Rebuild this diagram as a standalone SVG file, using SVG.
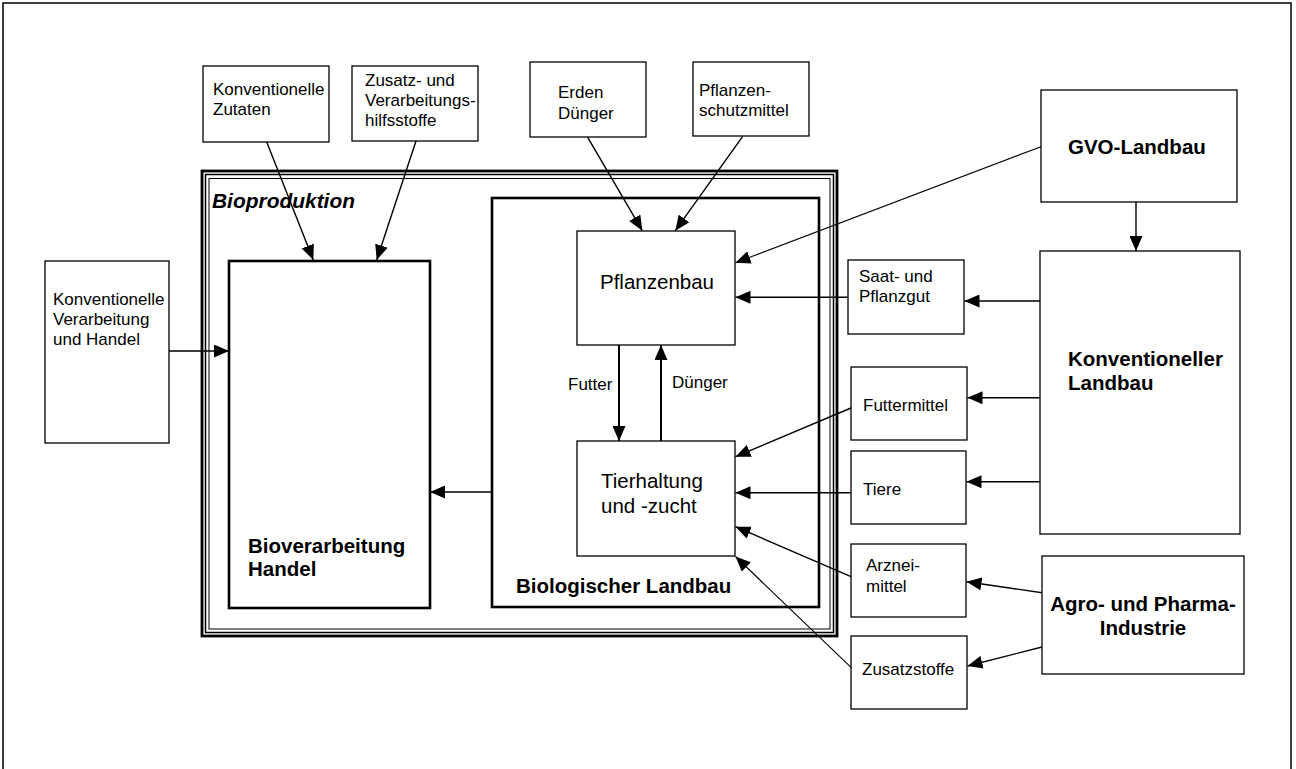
<svg xmlns="http://www.w3.org/2000/svg" width="1296" height="769" viewBox="0 0 1296 769">
<style>
.bx{fill:#fff;stroke:#000;stroke-width:1.3}
.tk{fill:none;stroke:#000;stroke-width:2.6}
.t{font-family:"Liberation Sans",Arial,sans-serif;font-size:17px;fill:#000}
.m{font-family:"Liberation Sans",Arial,sans-serif;font-size:20.5px;fill:#000}
.b{font-family:"Liberation Sans",Arial,sans-serif;font-size:20.5px;font-weight:bold;fill:#000}
.c{fill:none;stroke:#000;stroke-width:1.4;marker-end:url(#ah)}
.c2{fill:none;stroke:#000;stroke-width:2;marker-end:url(#ah)}
</style>
<defs>
<marker id="ah" markerUnits="userSpaceOnUse" markerWidth="15" markerHeight="13" refX="15" refY="6.5" orient="auto" viewBox="0 0 15 13">
<path d="M0,0 L15,6.5 L0,13 z" fill="#000"/>
</marker>
</defs>
<rect width="1296" height="769" fill="#fff"/>
<rect x="3" y="3" width="1288" height="780" fill="none" stroke="#000" stroke-width="1.5"/>

<g id="bioproduktion">
<rect x="202" y="171" width="635" height="465" fill="none" stroke="#000" stroke-width="2.8"/>
<rect x="205.5" y="174.5" width="628" height="458" fill="none" stroke="#000" stroke-width="1.5"/>
<rect x="209" y="178.5" width="621" height="450.5" fill="none" stroke="#000" stroke-width="1"/>
<text x="212" y="208" class="b" font-style="italic" textLength="143" lengthAdjust="spacingAndGlyphs">Bioproduktion</text>
</g>

<g id="bioverarbeitung">
<rect x="229" y="261" width="201" height="347" class="tk"/>
<text class="b" x="248" y="553">Bioverarbeitung</text>
<text class="b" x="248" y="576">Handel</text>
</g>

<g id="biologischer-landbau">
<rect x="492" y="198" width="327" height="409" class="tk"/>
<text class="b" x="516" y="593">Biologischer Landbau</text>
</g>

<g id="pflanzenbau">
<rect x="577" y="231" width="158" height="114" class="bx"/>
<text class="m" x="600" y="289">Pflanzenbau</text>
</g>

<g id="tierhaltung">
<rect x="577" y="441" width="158" height="115" class="bx"/>
<text class="m" x="601" y="488">Tierhaltung</text>
<text class="m" x="601" y="513">und -zucht</text>
</g>

<g id="konv-verarbeitung">
<rect x="45" y="261" width="124" height="182" class="bx"/>
<text class="t" x="53" y="305">Konventionelle</text>
<text class="t" x="53" y="325">Verarbeitung</text>
<text class="t" x="53" y="345">und Handel</text>
</g>

<g id="konv-zutaten">
<rect x="203" y="66" width="126" height="76" class="bx"/>
<text class="t" x="213" y="95">Konventionelle</text>
<text class="t" x="213" y="115">Zutaten</text>
</g>

<g id="zusatz-hilfsstoffe">
<rect x="352" y="66" width="126" height="75" class="bx"/>
<text class="t" x="365" y="86">Zusatz- und</text>
<text class="t" x="365" y="106">Verarbeitungs-</text>
<text class="t" x="365" y="126">hilfsstoffe</text>
</g>

<g id="erden-duenger">
<rect x="530" y="62" width="116" height="75" class="bx"/>
<text class="t" x="558" y="98">Erden</text>
<text class="t" x="558" y="119">Dünger</text>
</g>

<g id="pflanzenschutzmittel">
<rect x="693" y="62" width="116" height="74" class="bx"/>
<text class="t" x="699" y="96">Pflanzen-</text>
<text class="t" x="699" y="116">schutzmittel</text>
</g>

<g id="gvo-landbau">
<rect x="1041" y="90" width="196" height="112" class="bx"/>
<text class="b" x="1068" y="154">GVO-Landbau</text>
</g>

<g id="konv-landbau">
<rect x="1040" y="251" width="200" height="283" class="bx"/>
<text class="b" x="1068" y="366">Konventioneller</text>
<text class="b" x="1068" y="390">Landbau</text>
</g>

<g id="saatgut">
<rect x="848" y="260" width="116" height="74" class="bx"/>
<text class="t" x="859" y="282">Saat- und</text>
<text class="t" x="859" y="302">Pflanzgut</text>
</g>

<g id="futtermittel">
<rect x="851" y="367" width="116" height="73" class="bx"/>
<text class="t" x="863" y="411">Futtermittel</text>
</g>

<g id="tiere">
<rect x="851" y="451" width="115" height="73" class="bx"/>
<text class="t" x="863" y="495">Tiere</text>
</g>

<g id="arzneimittel">
<rect x="851" y="544" width="115" height="73" class="bx"/>
<text class="t" x="866" y="571">Arznei-</text>
<text class="t" x="866" y="592">mittel</text>
</g>

<g id="zusatzstoffe">
<rect x="851" y="636" width="116" height="73" class="bx"/>
<text class="t" x="862" y="675">Zusatzstoffe</text>
</g>

<g id="agro-pharma">
<rect x="1042" y="556" width="202" height="118" class="bx"/>
<text class="b" x="1143" y="611" text-anchor="middle">Agro- und Pharma-</text>
<text class="b" x="1143" y="635" text-anchor="middle">Industrie</text>
</g>

<g id="connectors">
<path class="c" d="M266.7,142 L313.3,260"/>
<path class="c" d="M416,141 L376.7,260"/>
<path class="c" d="M587.7,137.3 L642.3,230.7"/>
<path class="c" d="M742.7,136.3 L675.3,230.7"/>
<path class="c" style="stroke-width:1.1" d="M1041,146.7 L735.5,262.7"/>
<path class="c" d="M1136,202 L1136,251"/>
<path class="c" d="M848,297.3 L735.5,297.3"/>
<path class="c" d="M1040,301 L964.5,301"/>
<path class="c" d="M1040,397.7 L967.5,397.7"/>
<path class="c" d="M1040,481.7 L966.5,481.7"/>
<path class="c" d="M851,408 L735.5,456.7"/>
<path class="c" d="M851,492.7 L735.5,492.7"/>
<path class="c" d="M851,576.7 L735.5,526.7"/>
<path class="c" style="stroke-width:1.1" d="M851.3,667.7 L735.5,556.5"/>
<path class="c" d="M1042,592.7 L966.5,581.7"/>
<path class="c" d="M1042,647 L967.5,666"/>
<path class="c2" d="M619,345 L619,441"/>
<path class="c2" d="M661,441 L661,345"/>
<path class="c" d="M492,492 L430,492"/>
<path class="c" d="M169,351 L229,351"/>
<text class="t" x="568" y="390">Futter</text>
<text class="t" x="672" y="388">Dünger</text>
</g>
</svg>
